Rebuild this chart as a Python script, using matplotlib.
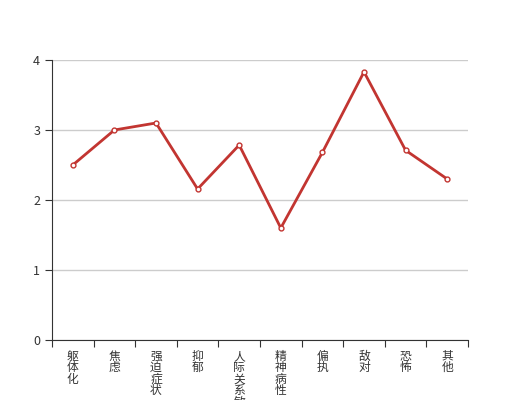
import matplotlib.pyplot as plt
import numpy as np

plt.rcParams['font.family'] = ['Noto Sans CJK SC', 'DejaVu Sans']

categories = ['躯体化', '焦虑', '强迫症状', '抑郁', '人际关系敏感', '精神病性', '偏执', '敌对', '恐怖', '其他']
values = [2.5, 3.0, 3.1, 2.157, 2.785, 1.6, 2.68, 3.83, 2.71, 2.30]
y_ticks = [0, 1, 2, 3, 4]

fig = plt.figure(figsize=(5.2, 4), dpi=100)
ax = fig.add_axes([0.1, 0.15, 0.8, 0.7])

x = np.arange(len(categories))
ax.plot(x, values, color='#c23531', lw=2, marker='o', ms=3.5,
        markerfacecolor='white', markeredgecolor='#c23531', markeredgewidth=1, zorder=3)

ax.set_xlim(-0.5, len(categories) - 0.5)
ax.set_ylim(0, 4)
ax.set_yticks(y_ticks)
ax.yaxis.grid(True, color='#cccccc', lw=1)
ax.set_axisbelow(True)

# ticks on category boundaries, labels centred and stacked vertically
ax.set_xticks(np.arange(len(categories) + 1) - 0.5)
ax.set_xticklabels([])
ax.set_xticks(x, minor=True)
ax.set_xticklabels(['\n'.join(c) for c in categories], minor=True,
                   fontsize=8.5, color='#333333', va='top', linespacing=0.85)
ax.tick_params(axis='x', which='minor', length=0, pad=7)
ax.tick_params(axis='x', which='major', length=5, color='#333333', direction='out')
ax.tick_params(axis='y', length=5, color='#333333', labelsize=9, labelcolor='#333333')

for s in ['top', 'right']:
    ax.spines[s].set_visible(False)
ax.spines['left'].set_color('#333333')
ax.spines['bottom'].set_color('#333333')

plt.savefig('out.png', dpi=100)
